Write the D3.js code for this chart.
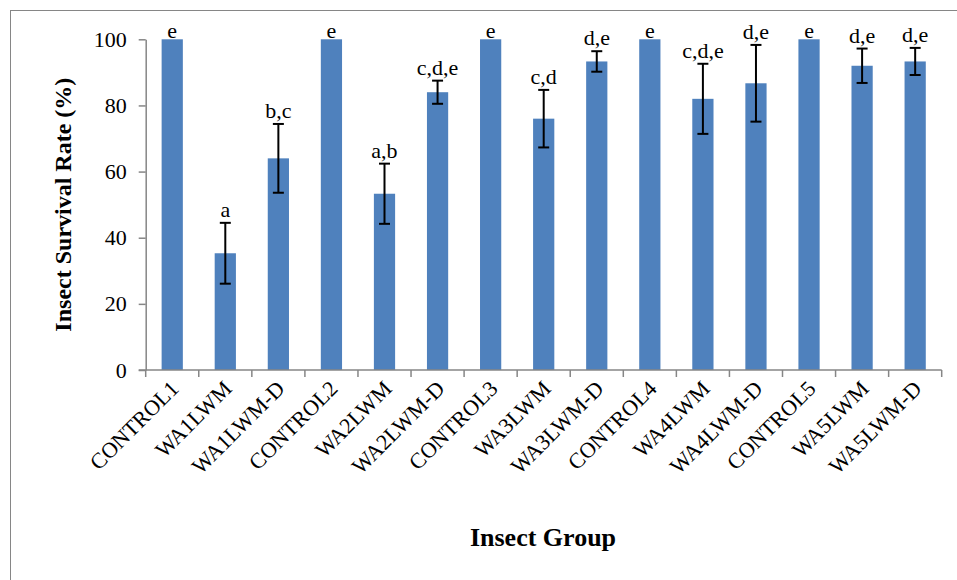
<!DOCTYPE html>
<html>
<head>
<meta charset="utf-8">
<script src="https://cdn.jsdelivr.net/npm/d3@7"></script>
<style>
  body { margin: 0; background: #fff; }
  svg { display: block; }
</style>
</head>
<body>
<svg id="chart" width="957" height="580"></svg>
<script>
// data
var groups = ["CONTROL1", "WA1LWM", "WA1LWM-D", "CONTROL2", "WA2LWM", "WA2LWM-D",
    "CONTROL3", "WA3LWM", "WA3LWM-D", "CONTROL4", "WA4LWM", "WA4LWM-D",
    "CONTROL5", "WA5LWM", "WA5LWM-D"];
var survival = [100, 35.3, 64, 100, 53.3, 84, 100, 76, 93.3, 100, 82, 86.7, 100, 92, 93.3];
var errors = [0, 9.2, 10.4, 0, 9.1, 3.5, 0, 8.7, 3.1, 0, 10.6, 11.6, 0, 5.2, 4.1];
var letters = ["e", "a", "b,c", "e", "a,b", "c,d,e", "e", "c,d", "d,e", "e", "c,d,e", "d,e", "e", "d,e", "d,e"];
var yTicks = [0, 20, 40, 60, 80, 100];

var serif = "Liberation Serif, Times New Roman, serif",
    axisColor = "#868686",
    barColor = "#4F81BD";

var svg = d3.select("#chart");

// outer frame, cut by the page edge on right and bottom
svg.append("rect")
    .attr("x", 10.5).attr("y", 10.5)
    .attr("width", 1000).attr("height", 1000)
    .attr("fill", "none")
    .attr("stroke", axisColor)
    .attr("stroke-width", 1);

var plot = { left: 145.7, right: 941.7, top: 39.3, bottom: 370 };

var x = d3.scaleBand()
    .domain(groups)
    .range([plot.left, plot.right])
    .paddingInner(0.6)
    .paddingOuter(0.3);

var y = d3.scaleLinear()
    .domain([0, 100])
    .range([plot.bottom, plot.top]);

var cx = d => x(d) + x.bandwidth() / 2;

// y axis
var yAxis = svg.append("g")
    .attr("transform", "translate(" + plot.left + ",0)")
    .call(d3.axisLeft(y).tickValues(yTicks).tickSize(7).tickPadding(12).tickSizeOuter(0));
yAxis.select(".domain").attr("stroke", axisColor).attr("stroke-width", 1.5);
yAxis.selectAll(".tick line").attr("stroke", axisColor).attr("stroke-width", 1.5);
yAxis.selectAll(".tick text")
    .attr("fill", "#000")
    .attr("font-family", serif)
    .attr("font-size", 22);

// bars
svg.append("g").selectAll("rect")
    .data(groups).enter()
    .append("rect")
    .attr("x", d => x(d))
    .attr("y", (d, i) => y(survival[i]))
    .attr("width", x.bandwidth())
    .attr("height", (d, i) => plot.bottom - y(survival[i]))
    .attr("fill", barColor);

// x axis line and ticks between groups
var xg = svg.append("g");
var step = x.step();
xg.append("line")
    .attr("x1", plot.left - 7).attr("x2", plot.right)
    .attr("y1", plot.bottom).attr("y2", plot.bottom)
    .attr("stroke", axisColor).attr("stroke-width", 1.5);
xg.selectAll(".xtick")
    .data(d3.range(groups.length + 1)).enter()
    .append("line")
    .attr("class", "xtick")
    .attr("x1", i => plot.left + i * step).attr("x2", i => plot.left + i * step)
    .attr("y1", plot.bottom).attr("y2", plot.bottom + 7)
    .attr("stroke", axisColor).attr("stroke-width", 1.5);

// category labels, turned 45 degrees up, ending under each bar
xg.selectAll(".xlabel")
    .data(groups).enter()
    .append("text")
    .attr("class", "xlabel")
    .attr("transform", d => "translate(" + Math.round(cx(d) + 8) + "," + (plot.bottom + 20) + ") rotate(-45)")
    .attr("text-anchor", "end")
    .attr("fill", "#000")
    .attr("font-family", serif)
    .attr("font-size", 22)
    .text(d => d);

// error bars
var eb = svg.append("g").selectAll("g")
    .data(groups.map((d, i) => ({ key: d, v: survival[i], e: errors[i] })).filter(d => d.e > 0))
    .enter().append("g")
    .attr("stroke", "#000").attr("stroke-width", 2);
eb.append("line")
    .attr("x1", d => cx(d.key)).attr("x2", d => cx(d.key))
    .attr("y1", d => y(d.v + d.e)).attr("y2", d => y(d.v - d.e));
eb.append("line")
    .attr("x1", d => cx(d.key) - 5.5).attr("x2", d => cx(d.key) + 5.5)
    .attr("y1", d => y(d.v + d.e)).attr("y2", d => y(d.v + d.e));
eb.append("line")
    .attr("x1", d => cx(d.key) - 5.5).attr("x2", d => cx(d.key) + 5.5)
    .attr("y1", d => y(d.v - d.e)).attr("y2", d => y(d.v - d.e));

// significance letters
svg.append("g").selectAll("text")
    .data(groups).enter()
    .append("text")
    .attr("x", cx)
    .attr("y", (d, i) => y(survival[i] + errors[i]) - (errors[i] > 0 ? 6 : 1))
    .attr("text-anchor", "middle")
    .attr("fill", "#000")
    .attr("font-family", serif)
    .attr("font-size", 22)
    .text((d, i) => letters[i]);

// axis titles
svg.append("text")
    .attr("transform", "translate(71," + ((plot.top + plot.bottom) / 2) + ") rotate(-90)")
    .attr("text-anchor", "middle")
    .attr("fill", "#000")
    .attr("font-family", serif)
    .attr("font-weight", "bold")
    .attr("font-size", 24)
    .text("Insect Survival Rate (%)");

svg.append("text")
    .attr("x", 543).attr("y", 546)
    .attr("text-anchor", "middle")
    .attr("fill", "#000")
    .attr("font-family", serif)
    .attr("font-weight", "bold")
    .attr("font-size", 26)
    .text("Insect Group");
</script>
</body>
</html>
